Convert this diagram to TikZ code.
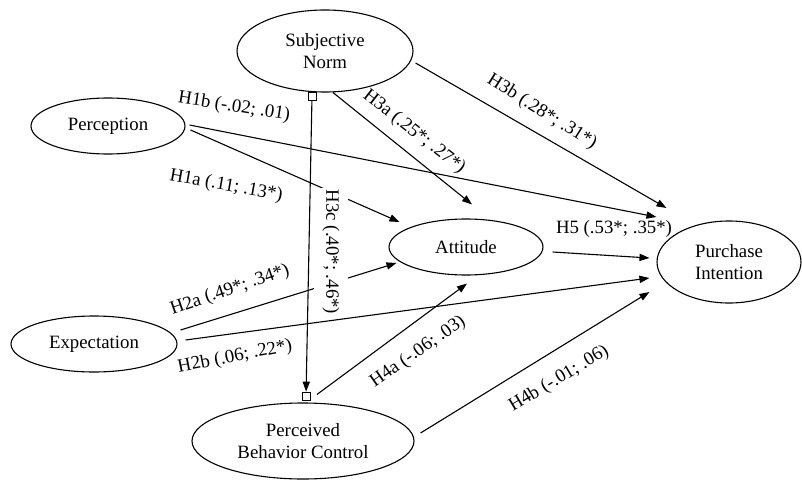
\documentclass[tikz,border=0pt]{standalone}
\usepackage{fontspec}
\setmainfont{Liberation Serif}
\usetikzlibrary{shapes.geometric,arrows.meta}

\begin{document}
\begin{tikzpicture}[x=0.5pt,y=-0.5pt,
oval/.style={ellipse,draw,line width=0.55pt,inner sep=0pt,align=center,font=\fontsize{9.4}{11}\selectfont},
arr/.style={-{Triangle[length=5pt,width=3.6pt]},line width=0.55pt},
lbl/.style={inner sep=1pt,font=\fontsize{9.4}{11}\selectfont},
handle/.style={rectangle,draw,line width=0.4pt,minimum size=4pt,inner sep=0pt}]
\useasboundingbox (0,0) rectangle (802,481);
\node  [oval,minimum width=88pt,minimum height=41pt] (SN) at (325,51){Subjective\\Norm};
\node  [oval,minimum width=77pt,minimum height=28pt] (Per) at (108,126){Perception};
\node  [oval,minimum width=83pt,minimum height=28pt] (Exp) at (94,344){Expectation};
\node  [oval,minimum width=77pt,minimum height=28pt] (Att) at (466,247){Attitude};
\node  [oval,minimum width=72pt,minimum height=41pt] (PI) at (729,262){Purchase\\Intention};
\node  [oval,minimum width=111pt,minimum height=38pt] (PBC) at (303,441){Perceived\\Behavior Control};
\node  [handle] (hTop) at (312,96){};
\node  [handle] (hBot) at (306,396){};
\draw [arr] ([shift={(4,-1)}]Per.east) -- ([shift={(0,-45)}]PI.west);
\draw [arr] ([shift={(5,4)}]Per.east) -- ([shift={(11,-25)}]Att.west);
\draw [arr] ([shift={(3,-14)}]Exp.east) -- ([shift={(8,16)}]Att.west);
\draw [arr] ([shift={(8,-4)}]Exp.east) -- ([shift={(-7,16)}]PI.west);
\draw [arr] ([shift={(8,0)}]SN.south) -- ([shift={(6,-14)}]Att.north);
\draw [arr] ([shift={(2,12)}]SN.east) -- ([shift={(10,-54)}]PI.west);
\draw [arr] (hTop) -- (hBot);
\draw [arr] ([shift={(14,-8)}]PBC.north) -- ([shift={(1,8)}]Att.south);
\draw [arr] ([shift={(6,-8)}]PBC.east) -- ([shift={(-7,30)}]PI.west);
\draw [arr] ([shift={(9,5)}]Att.east) -- ([shift={(-7,-4)}]PI.west);
\node  [lbl,rotate=-9] (l1b) at (234,107){H1b (-.02; .01)};
\node  [lbl,rotate=-10] (l1a) at (226,186){H1a (.11; .13*)};
\node  [lbl,rotate=19] (l2a) at (230,290){H2a (.49*; .34*)};
\node  [lbl,rotate=11] (l2b) at (235,357){H2b (.06; .22*)};
\node  [lbl,rotate=-38] (l3a) at (414,132){H3a (.25*; .27*)};
\node  [lbl,rotate=-32] (l3b) at (542,112){H3b (.28*; .31*)};
\node  [lbl,rotate=-90,fill=white,inner ysep=4pt] (l3c) at (331,252){H3c (.40*; .46*)};
\node  [lbl,rotate=35] (l4a) at (418,352){H4a (-.06; .03)};
\node  [lbl,rotate=31] (l4b) at (559,379){H4b (-.01; .06)};
\node  [lbl] (l5) at (614,229){H5 (.53*; .35*)};
\end{tikzpicture}
\end{document}
